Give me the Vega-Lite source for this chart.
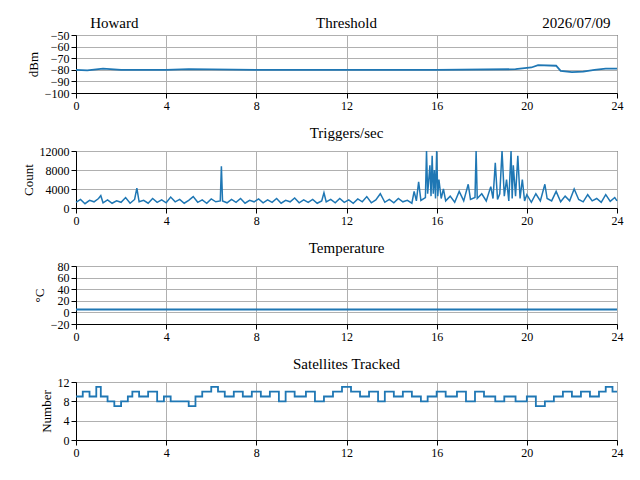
{
  "$schema": "https://vega.github.io/schema/vega-lite/v6.json",
  "padding": {"left": 21, "top": 15, "right": 5, "bottom": 5},
  "spacing": 13,
  "config": {
    "font": "Liberation Serif",
    "view": {"stroke": "black"},
    "title": {"fontSize": 15, "fontWeight": "normal", "offset": 4, "color": "black"},
    "axis": {"labelFontSize": 12, "titleFontSize": 13, "titleFontWeight": "normal", "grid": true, "gridColor": "#b0b0b0", "domainColor": "black", "tickColor": "black", "labelColor": "black", "titleColor": "black", "labelOverlap": false, "labelFlush": false, "labelPadding": 2, "titlePadding": 4},
    "line": {"color": "#1f77b4", "strokeWidth": 1.8}
  },
  "datasets": {
    "thr": [
      {"t": 0, "v": -80}, {"t": 0.5, "v": -80.5}, {"t": 1.2, "v": -79}, {"t": 2, "v": -80}, {"t": 4, "v": -80}, {"t": 5, "v": -79.5}, {"t": 8, "v": -80}, {"t": 12, "v": -80}, {"t": 16, "v": -80}, {"t": 19.5, "v": -79.5},
      {"t": 20.2, "v": -78}, {"t": 20.5, "v": -76}, {"t": 21.3, "v": -76.5}, {"t": 21.5, "v": -81}, {"t": 22, "v": -82}, {"t": 22.5, "v": -81.5}, {"t": 23, "v": -80}, {"t": 23.5, "v": -79}, {"t": 24, "v": -79}
    ],
    "trg": [
      {"t":0,"v":1200},{"t":0.2,"v":1800},{"t":0.4,"v":900},{"t":0.6,"v":1600},{"t":0.8,"v":1300},{"t":1.0,"v":2000},{"t":1.1,"v":2600},{"t":1.2,"v":1100},{"t":1.4,"v":1700},{"t":1.6,"v":1000},{"t":1.8,"v":1500},{"t":2.0,"v":1200},{"t":2.2,"v":2200},{"t":2.4,"v":1000},{"t":2.6,"v":1800},{"t":2.7,"v":4200},{"t":2.8,"v":1300},{"t":3.0,"v":1600},{"t":3.2,"v":1000},{"t":3.4,"v":2000},{"t":3.6,"v":1200},{"t":3.8,"v":1700},{"t":4.0,"v":1100},{"t":4.2,"v":2300},{"t":4.4,"v":1300},{"t":4.6,"v":1800},{"t":4.8,"v":1000},{"t":5.0,"v":1600},{"t":5.2,"v":2400},{"t":5.4,"v":1200},{"t":5.6,"v":1700},{"t":5.8,"v":1000},{"t":6.0,"v":1900},{"t":6.2,"v":1300},{"t":6.4,"v":1500},{"t":6.45,"v":8800},{"t":6.5,"v":1500},{"t":6.7,"v":1100},{"t":6.9,"v":1800},{"t":7.1,"v":1200},{"t":7.3,"v":2000},{"t":7.5,"v":1000},{"t":7.7,"v":1600},{"t":7.9,"v":1300},{"t":8.1,"v":1900},{"t":8.3,"v":1100},{"t":8.5,"v":1700},{"t":8.7,"v":1200},{"t":8.9,"v":2000},{"t":9.1,"v":1000},{"t":9.3,"v":1600},{"t":9.5,"v":1300},{"t":9.7,"v":2100},{"t":9.9,"v":1100},{"t":10.1,"v":1700},{"t":10.3,"v":1200},{"t":10.5,"v":1800},{"t":10.7,"v":1000},{"t":10.9,"v":1500},{"t":11.0,"v":3200},{"t":11.1,"v":1300},{"t":11.3,"v":1800},{"t":11.5,"v":1100},{"t":11.7,"v":2000},{"t":11.9,"v":1200},{"t":12.1,"v":1700},{"t":12.3,"v":1000},{"t":12.5,"v":1900},{"t":12.7,"v":1300},{"t":12.9,"v":2400},{"t":13.1,"v":1100},{"t":13.3,"v":1700},{"t":13.5,"v":3000},{"t":13.7,"v":1200},{"t":13.9,"v":1800},{"t":14.1,"v":1100},{"t":14.3,"v":2000},{"t":14.5,"v":1300},{"t":14.7,"v":1600},{"t":14.9,"v":1000},{"t":15.0,"v":3500},{"t":15.1,"v":1500},{"t":15.2,"v":5500},{"t":15.3,"v":1600},{"t":15.5,"v":2200},{"t":15.55,"v":12000},{"t":15.6,"v":3000},{"t":15.7,"v":9000},{"t":15.75,"v":2500},{"t":15.8,"v":11000},{"t":15.85,"v":3000},{"t":15.9,"v":8000},{"t":15.95,"v":2000},{"t":16.0,"v":12000},{"t":16.05,"v":2500},{"t":16.1,"v":6000},{"t":16.2,"v":2000},{"t":16.3,"v":4000},{"t":16.4,"v":1500},{"t":16.6,"v":2500},{"t":16.8,"v":1200},{"t":17.0,"v":3500},{"t":17.2,"v":1500},{"t":17.4,"v":5000},{"t":17.5,"v":1800},{"t":17.7,"v":2200},{"t":17.75,"v":12000},{"t":17.8,"v":2000},{"t":18.0,"v":3000},{"t":18.2,"v":1500},{"t":18.4,"v":4500},{"t":18.5,"v":2000},{"t":18.6,"v":9500},{"t":18.7,"v":1800},{"t":18.8,"v":3000},{"t":18.9,"v":12000},{"t":19.0,"v":2500},{"t":19.1,"v":6000},{"t":19.2,"v":1500},{"t":19.3,"v":12000},{"t":19.35,"v":2000},{"t":19.4,"v":9000},{"t":19.5,"v":2500},{"t":19.6,"v":11000},{"t":19.7,"v":2000},{"t":19.8,"v":6000},{"t":19.9,"v":1500},{"t":20.0,"v":2800},{"t":20.2,"v":1200},{"t":20.4,"v":3000},{"t":20.6,"v":1500},{"t":20.8,"v":5000},{"t":20.9,"v":2000},{"t":21.1,"v":1500},{"t":21.3,"v":3500},{"t":21.5,"v":1300},{"t":21.7,"v":2500},{"t":21.9,"v":1500},{"t":22.1,"v":4000},{"t":22.3,"v":1800},{"t":22.5,"v":1300},{"t":22.7,"v":2800},{"t":22.9,"v":1500},{"t":23.1,"v":2000},{"t":23.3,"v":1200},{"t":23.5,"v":2800},{"t":23.7,"v":1400},{"t":23.9,"v":2200},{"t":24,"v":1500}
    ],
    "tmp": [{"t": 0, "v": 5}, {"t": 24, "v": 5}],
    "sat": [
      {"t":0,"v":9},{"t":0.3,"v":10},{"t":0.6,"v":9},{"t":0.9,"v":11},{"t":1.1,"v":9},{"t":1.4,"v":8},{"t":1.7,"v":7},{"t":2.0,"v":8},{"t":2.3,"v":9},{"t":2.5,"v":10},{"t":2.8,"v":9},{"t":3.2,"v":10},{"t":3.6,"v":8},{"t":3.9,"v":9},{"t":4.2,"v":8},{"t":5.0,"v":7},{"t":5.3,"v":9},{"t":5.6,"v":10},{"t":6.0,"v":11},{"t":6.3,"v":10},{"t":6.6,"v":9},{"t":7.0,"v":10},{"t":7.4,"v":9},{"t":7.8,"v":10},{"t":8.2,"v":9},{"t":8.6,"v":10},{"t":9.0,"v":8},{"t":9.3,"v":10},{"t":9.7,"v":9},{"t":10.2,"v":10},{"t":10.6,"v":8},{"t":11.0,"v":9},{"t":11.4,"v":10},{"t":11.8,"v":11},{"t":12.2,"v":10},{"t":12.6,"v":9},{"t":13.0,"v":10},{"t":13.4,"v":8},{"t":13.7,"v":10},{"t":14.1,"v":9},{"t":14.5,"v":10},{"t":14.9,"v":9},{"t":15.3,"v":8},{"t":15.6,"v":9},{"t":16.0,"v":10},{"t":16.4,"v":9},{"t":16.9,"v":10},{"t":17.3,"v":8},{"t":17.7,"v":10},{"t":18.1,"v":9},{"t":18.6,"v":8},{"t":19.0,"v":9},{"t":19.5,"v":8},{"t":20.0,"v":9},{"t":20.4,"v":7},{"t":20.8,"v":8},{"t":21.2,"v":9},{"t":21.6,"v":10},{"t":22.0,"v":9},{"t":22.4,"v":10},{"t":22.8,"v":9},{"t":23.2,"v":10},{"t":23.5,"v":11},{"t":23.8,"v":10},{"t":24,"v":10}
    ]
  },
  "vconcat": [
    {
      "width": 541, "height": 58,
      "resolve": {"axis": {"x": "independent", "y": "independent"}},
      "layer": [
        {
          "data": {"name": "thr"},
          "mark": "line",
          "encoding": {
            "x": {"field": "t", "type": "quantitative", "scale": {"domain": [0, 24]}, "axis": {"values": [0, 4, 8, 12, 16, 20, 24], "title": null}},
            "y": {"field": "v", "type": "quantitative", "scale": {"domain": [-100, -50]}, "axis": {"values": [-100, -90, -80, -70, -60, -50], "labelOverlap": false, "title": "dBm", "labelExpr": "replace(datum.label, '-', '−')"}}
          }
        },
        {
          "data": {"values": [{"label": "Howard", "t": 1.7}, {"label": "Threshold", "t": 12}, {"label": "2026/07/09", "t": 22.2}]},
          "mark": {"type": "text", "fontSize": 15, "baseline": "bottom", "dy": -4, "clip": false},
          "encoding": {"x": {"field": "t", "type": "quantitative", "axis": null}, "y": {"datum": -50, "type": "quantitative", "axis": null}, "text": {"field": "label"}}
        }
      ]
    },
    {
      "width": 541, "height": 57,
      "title": "Triggers/sec",
      "data": {"name": "trg"},
      "mark": {"type": "line", "strokeWidth": 1.5},
      "encoding": {
        "x": {"field": "t", "type": "quantitative", "scale": {"domain": [0, 24]}, "axis": {"values": [0, 4, 8, 12, 16, 20, 24], "title": null}},
        "y": {"field": "v", "type": "quantitative", "scale": {"domain": [0, 12000]}, "axis": {"values": [0, 4000, 8000, 12000], "format": "d", "title": "Count"}}
      }
    },
    {
      "width": 541, "height": 58,
      "title": "Temperature",
      "data": {"name": "tmp"},
      "mark": "line",
      "encoding": {
        "x": {"field": "t", "type": "quantitative", "scale": {"domain": [0, 24]}, "axis": {"values": [0, 4, 8, 12, 16, 20, 24], "title": null}},
        "y": {"field": "v", "type": "quantitative", "scale": {"domain": [-20, 80]}, "axis": {"values": [-20, 0, 20, 40, 60, 80], "title": "°C", "labelExpr": "replace(datum.label, '-', '−')"}}
      }
    },
    {
      "width": 541, "height": 58,
      "title": "Satellites Tracked",
      "data": {"name": "sat"},
      "mark": {"type": "line", "interpolate": "step-after"},
      "encoding": {
        "x": {"field": "t", "type": "quantitative", "scale": {"domain": [0, 24]}, "axis": {"values": [0, 4, 8, 12, 16, 20, 24], "title": null}},
        "y": {"field": "v", "type": "quantitative", "scale": {"domain": [0, 12]}, "axis": {"values": [0, 4, 8, 12], "title": "Number"}}
      }
    }
  ]
}
